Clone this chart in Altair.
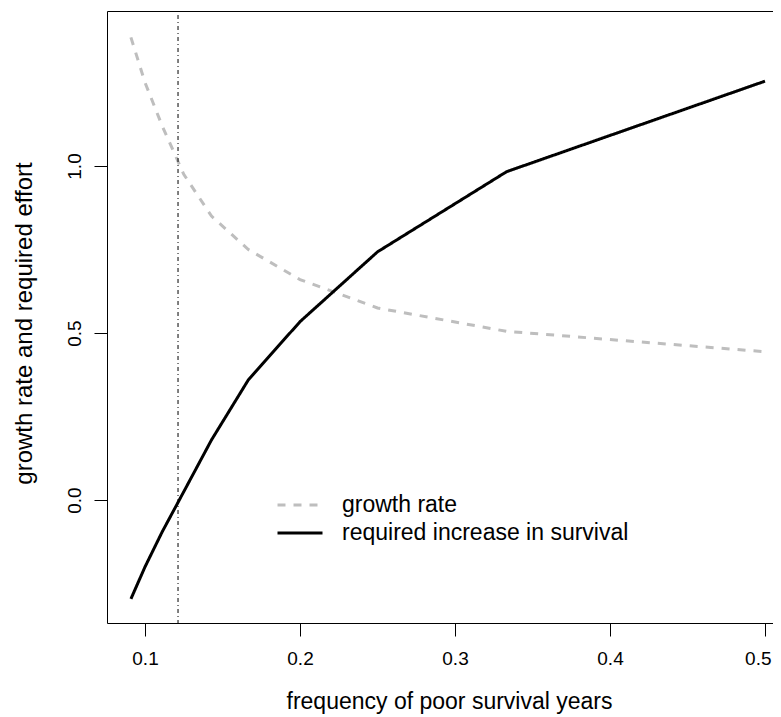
import altair as alt
import pandas as pd

# frequency of poor survival years (x)
freq = [0.0909, 0.1, 0.1111, 0.125, 0.1429, 0.1667, 0.2, 0.25, 0.3333, 0.5]
# growth rate (grey dashed)
growth = [1.385, 1.25, 1.12, 0.975, 0.85, 0.75, 0.66, 0.575, 0.505, 0.444]
# required increase in survival (black solid)
required = [-0.296, -0.20, -0.095, 0.025, 0.18, 0.36, 0.534, 0.743, 0.983, 1.254]
# threshold (vertical dot-dash line)
threshold = [0.1213]

series_names = ["growth rate", "required increase in survival"]
x_ticks = [0.1, 0.2, 0.3, 0.4, 0.5]
y_ticks = [0.0, 0.5, 1.0]

rows = []
for i, f in enumerate(freq):
    rows.append({"x": f, "y": growth[i], "series": series_names[0], "o": i})
for i, f in enumerate(freq):
    rows.append({"x": f, "y": required[i], "series": series_names[1], "o": i})
df = pd.DataFrame(rows)
df_v = pd.DataFrame({"x": threshold})

FONT = "Liberation Sans"
xscale = alt.Scale(domain=[0.07548, 0.50516], nice=False, zero=False)
yscale = alt.Scale(domain=[-0.368, 1.464], nice=False, zero=False)

lines = alt.Chart(df).mark_line(strokeWidth=3).encode(
    x=alt.X("x:Q", scale=xscale,
            axis=alt.Axis(orient="bottom", values=x_ticks, format=".1f",
                          title="frequency of poor survival years",
                          titleFontSize=23, titleX=342,
                          tickSize=13, labelPadding=13, titlePadding=22,
                          labelFlush=10, labelFlushOffset=6,
                          grid=False)),
    y=alt.Y("y:Q", scale=yscale,
            axis=alt.Axis(values=y_ticks, format=".1f",
                          title="growth rate and required effort",
                          titleFontSize=24, titleY=312,
                          tickSize=13, labelPadding=14, labelAngle=-90,
                          labelAlign="center", labelBaseline="alphabetic",
                          titlePadding=29, grid=False)),
    color=alt.Color("series:N",
                    scale=alt.Scale(domain=series_names, range=["#bebebe", "#000000"]),
                    legend=alt.Legend(title=None, orient="none", legendX=169, legendY=480,
                                      symbolType="stroke", symbolSize=2025,
                                      symbolStrokeWidth=3, labelFontSize=23,
                                      labelFont=FONT, labelColor="black",
                                      labelLimit=500, clipHeight=28,
                                      labelOffset=18, rowPadding=0, padding=0)),
    strokeDash=alt.StrokeDash("series:N",
                              scale=alt.Scale(domain=series_names, range=[[8, 8], [1, 0]]),
                              legend=None),
    order="o:Q",
)

vline = alt.Chart(df_v).mark_rule(color="black", strokeWidth=1, strokeDash=[1, 3, 4, 3]).encode(
    x=alt.X("x:Q", scale=xscale,
            axis=alt.Axis(orient="top", labels=False, ticks=False, domain=True,
                          title=None, grid=False)),
)

chart = alt.layer(lines, vline).resolve_axis(x="independent").properties(
    width=666, height=612,
    autosize=alt.AutoSizeParams(type="none"),
    padding={"left": 99, "top": 3, "right": 0, "bottom": 94},
).configure(background="white").configure_view(stroke=None).configure_axis(
    labelFont=FONT, titleFont=FONT, labelFontSize=19, titleFontSize=23,
    titleFontWeight="normal", labelColor="black", titleColor="black",
    domainColor="black", tickColor="black", domainWidth=1, tickWidth=1,
)

chart.save("out.html", embed_options={"renderer": "svg", "actions": False})
